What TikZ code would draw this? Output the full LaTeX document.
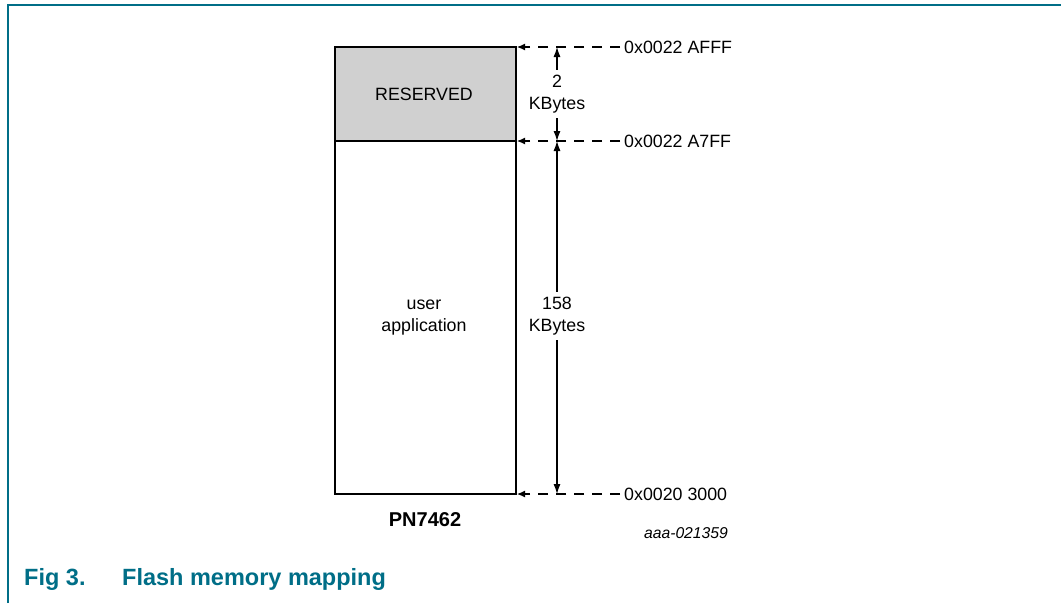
\documentclass[tikz,border=0pt]{standalone}
\usepackage{fontspec}
\setmainfont{Liberation Sans}
\usetikzlibrary{arrows.meta}
\definecolor{nxpteal}{RGB}{0,110,135}
\definecolor{resgray}{RGB}{208,208,208}
\begin{document}
\begin{tikzpicture}[x=1pt,y=-1pt,
  every node/.style={font=\fontsize{17.8}{22}\selectfont, inner sep=0pt, align=center},
  memblock/.style={draw=black, line width=1.3pt},
  addrline/.style={dash pattern=on 10pt off 8pt, line width=1.1pt, -{Latex[length=8pt,width=7pt]}},
  dimline/.style={line width=1.1pt, -{Latex[length=10pt,width=7pt]}},
  framecol/.style={draw=nxpteal, line width=1.8pt}]
\useasboundingbox (0,0) rectangle (1061,603);
% frame
\draw[framecol] (8,603) -- (8,5) -- (1061,5);
% memory blocks
\draw[memblock, fill=resgray] (335,47) rectangle (516,141);
\draw[memblock] (335,141) rectangle (516,494);
\node (res) at (424,94) {RESERVED};
\node (app) at (424,318) {user\\application};
% address labels
\node[anchor=west] (aTop) at (624,47) {0x0022 AFFF};
\node[anchor=west] (aMid) at (624,141) {0x0022 A7FF};
\node[anchor=west] (aBot) at (624,494) {0x0020 3000};
\coordinate (pTop) at (517,47);
\coordinate (pMid) at (517,141);
\coordinate (pBot) at (517,494);
\draw[addrline] (aTop.west) ++(-4,0) -- (pTop);
\draw[addrline] (aMid.west) ++(-4,0) -- (pMid);
\draw[addrline] (aBot.west) ++(-4,0) -- (pBot);
% dimension labels
\node (k2) at (557,94) {2\\KBytes};
\node (k158) at (557,316) {158\\KBytes};
\coordinate (dTop) at (557,47);
\coordinate (dMid) at (557,141);
\coordinate (dBot) at (557,494);
\draw[dimline] ([yshift=5pt]k2.north) -- (dTop);
\draw[dimline] ([yshift=-5pt]k2.south) -- (dMid);
\draw[dimline] ([yshift=5pt]k158.north) -- (dMid);
\draw[dimline] ([yshift=-5pt]k158.south) -- (dBot);
% labels
\node[font=\fontsize{20}{24}\selectfont\bfseries] (chip) at (425,520) {PN7462};
\node[font=\fontsize{15.7}{19}\selectfont\itshape] (code) at (686,533) {aaa-021359};
\node[anchor=west, font=\fontsize{23.5}{28}\selectfont\bfseries, text=nxpteal] (fig) at (24,579) {Fig 3.};
\node[anchor=west, font=\fontsize{23.5}{28}\selectfont\bfseries, text=nxpteal] (title) at (122,579) {Flash memory mapping};
\end{tikzpicture}
\end{document}
